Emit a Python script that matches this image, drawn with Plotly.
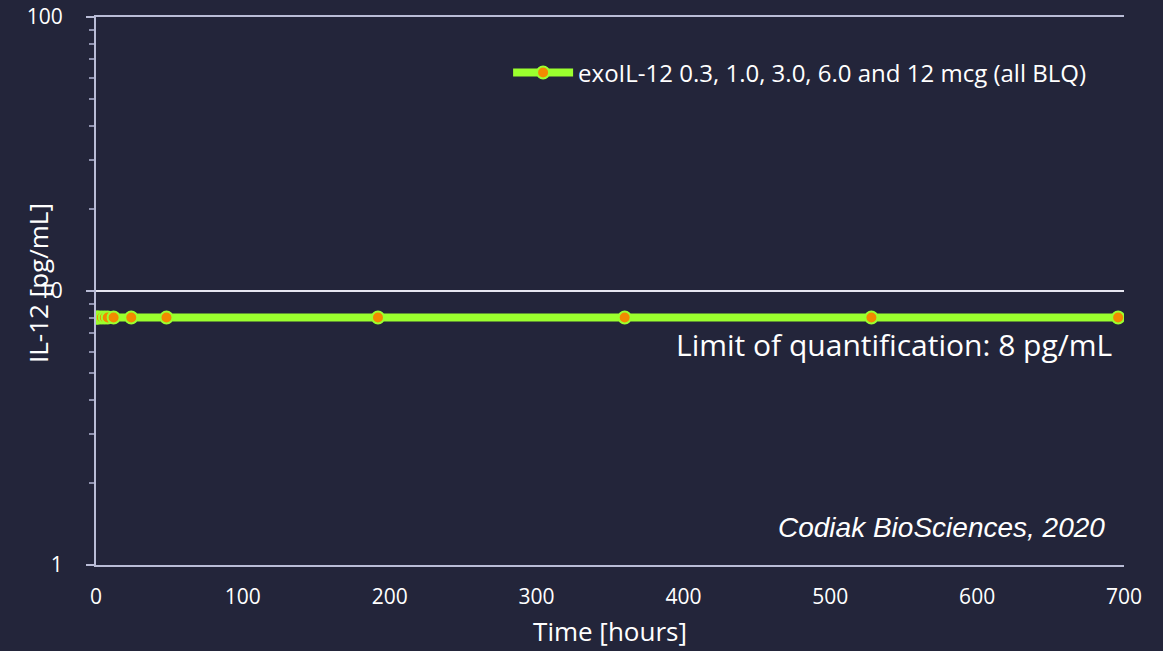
import plotly.graph_objects as go

# Sampling times (hours) and measured IL-12 plasma levels (pg/mL, all at LLOQ)
time_hours = [0, 1, 2, 4, 6, 8, 12, 24, 48, 192, 360, 528, 696]
il12_pg_ml = [8, 8, 8, 8, 8, 8, 8, 8, 8, 8, 8, 8, 8]
series_name = "exoIL-12 0.3, 1.0, 3.0, 6.0 and 12 mcg (all BLQ)"
y_tick_vals = [1, 10, 100]
y_tick_text = ["1", "10", "100"]
x_tick_vals = [0, 100, 200, 300, 400, 500, 600, 700]
y_minor_vals = [2, 3, 4, 5, 6, 7, 8, 9, 20, 30, 40, 50, 60, 70, 80, 90]

BG = "#23253a"
AXIS = "#b9bcd6"
FONT = "'Open Sans', sans-serif"

fig = go.Figure()
fig.add_trace(go.Scatter(
    x=time_hours, y=il12_pg_ml, name=series_name, mode="lines+markers",
    line=dict(color="#9bff2e", width=8),
    marker=dict(color="#f28a00", size=12, line=dict(color="#9bff2e", width=2)),
))

fig.update_layout(
    width=1163, height=651,
    paper_bgcolor=BG, plot_bgcolor=BG,
    margin=dict(l=96, r=39, t=17, b=86),
    font=dict(family=FONT, color="#ffffff", size=21),
    showlegend=True,
    legend=dict(x=0.968, y=0.898, xanchor="right", yanchor="middle",
                bgcolor="rgba(0,0,0,0)", font=dict(size=24, color="#ffffff"),
                itemwidth=60),
    xaxis=dict(
        range=[0, 700], tickvals=x_tick_vals, showgrid=False, zeroline=False,
        showline=True, linecolor=AXIS, linewidth=2, mirror=True, automargin=False,
        ticks="", ticklabelstandoff=12, tickfont=dict(size=21, color="#ffffff"),
        title=dict(text="Time [hours]", font=dict(size=26, color="#ffffff"), standoff=14),
    ),
    yaxis=dict(
        type="log", range=[0, 2], tickvals=y_tick_vals, ticktext=y_tick_text,
        showgrid=True, gridcolor="#e6e6f0", gridwidth=2, zeroline=False,
        showline=True, linecolor=AXIS, linewidth=2, automargin=False,
        ticks="outside", ticklen=8, tickwidth=2, tickcolor=AXIS,
        ticklabelstandoff=19, tickfont=dict(size=21, color="#ffffff"),
        minor=dict(tickvals=y_minor_vals, ticks="outside", ticklen=5,
                   tickwidth=2, tickcolor="#8e91ad", showgrid=False),
    ),
)

# Rotated y-axis title, placed close to the tick labels
fig.add_annotation(
    x=(38 - 96) / 1028, y=(565 - 283) / 548, xref="paper", yref="paper",
    xanchor="center", yanchor="middle", showarrow=False,
    text="IL-12 [pg/mL]", textangle=-90,
    font=dict(size=26, color="#ffffff", family=FONT),
)

fig.add_annotation(
    x=0.99, y=0.803, xref="x domain", yref="y", yanchor="middle", xanchor="right",
    text="Limit of quantification: 8 pg/mL", showarrow=False,
    font=dict(size=30, color="#ffffff", family=FONT),
)
fig.add_annotation(
    x=0.983, y=0.068, xref="x domain", yref="y domain", xanchor="right", yanchor="middle",
    text="<i>Codiak BioSciences, 2020</i>", showarrow=False,
    font=dict(size=28, color="#ffffff", family="Liberation Sans, Arial, sans-serif"),
)

fig.write_html("out.html")
